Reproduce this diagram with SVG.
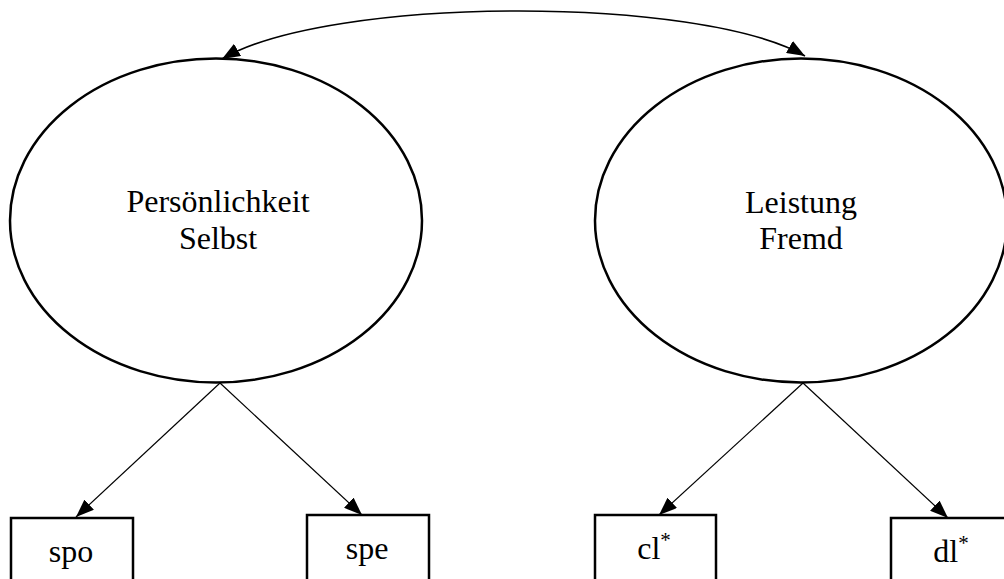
<svg xmlns="http://www.w3.org/2000/svg" width="1004" height="579" viewBox="0 0 1004 579">
  <style>
    .latent { fill: #ffffff; stroke: #000000; stroke-width: 2.5; }
    .manifest { fill: #ffffff; stroke: #000000; stroke-width: 2.5; }
    .label { font-family: "Liberation Serif", "Times New Roman", serif; font-size: 32px; fill: #000000; text-anchor: middle; }
    .sup { font-size: 21px; }
    .edge { fill: none; stroke: #000000; stroke-width: 1.2; }
    .cov { fill: none; stroke: #000000; stroke-width: 1.6; }
  </style>
  <defs>
    <marker id="arrow" viewBox="0 0 18 14" refX="18" refY="7" markerWidth="18" markerHeight="14" markerUnits="userSpaceOnUse" orient="auto-start-reverse">
      <path d="M0,0 L18,7 L0,14 Z" fill="#000000"/>
    </marker>
  </defs>

  <!-- latent factors -->
  <g id="persoenlichkeit-selbst">
    <ellipse class="latent" cx="216" cy="220.5" rx="206" ry="162"/>
    <text class="label" x="218" y="212">Persönlichkeit</text>
    <text class="label" x="218" y="249">Selbst</text>
  </g>
  <g id="leistung-fremd">
    <ellipse class="latent" cx="801" cy="220.5" rx="206" ry="162"/>
    <text class="label" x="801" y="213">Leistung</text>
    <text class="label" x="801" y="249">Fremd</text>
  </g>

  <!-- indicators -->
  <g id="spo">
    <rect class="manifest" x="11" y="518" width="122" height="80"/>
    <text class="label" x="71" y="562">spo</text>
  </g>
  <g id="spe">
    <rect class="manifest" x="307" y="515" width="122" height="80"/>
    <text class="label" x="367" y="559">spe</text>
  </g>
  <g id="cl">
    <rect class="manifest" x="595" y="515" width="121" height="80"/>
    <text class="label" x="654" y="559">cl<tspan class="sup" dy="-12">*</tspan></text>
  </g>
  <g id="dl">
    <rect class="manifest" x="891" y="518" width="122" height="80"/>
    <text class="label" x="951" y="562">dl<tspan class="sup" dy="-12">*</tspan></text>
  </g>

  <!-- connectors -->
  <g id="connectors">
    <path class="cov" d="M222,59 C330,-4.5 700,-4.5 805,56" marker-start="url(#arrow)" marker-end="url(#arrow)"/>
    <line class="edge" x1="220" y1="383" x2="76" y2="517" marker-end="url(#arrow)"/>
    <line class="edge" x1="220" y1="383" x2="362" y2="515" marker-end="url(#arrow)"/>
    <line class="edge" x1="803" y1="383" x2="659" y2="515" marker-end="url(#arrow)"/>
    <line class="edge" x1="803" y1="383" x2="948" y2="518" marker-end="url(#arrow)"/>
  </g>
</svg>
